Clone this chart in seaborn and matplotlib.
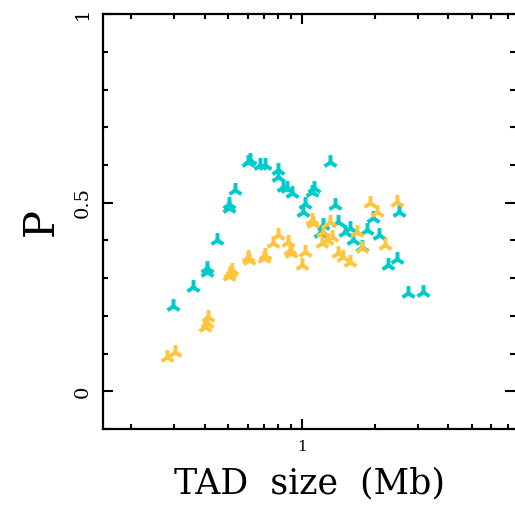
import numpy as np
import pandas as pd
import matplotlib
matplotlib.use("Agg")
import matplotlib.pyplot as plt
import seaborn as sns
from matplotlib.ticker import LogLocator, FixedLocator, MultipleLocator, NullFormatter

# teal series
teal_size = [0.296, 0.358, 0.408, 0.410, 0.449, 0.503, 0.505, 0.532, 0.602, 0.614,
             0.674, 0.707, 0.799, 0.799, 0.838, 0.870, 0.912, 1.032, 1.012, 1.102,
             1.123, 1.307, 1.370, 1.223, 1.189, 1.410, 1.506, 1.578, 1.625, 1.769,
             1.854, 1.963, 2.076, 2.51, 2.26, 2.46, 2.73, 3.15]
teal_p = [0.226, 0.277, 0.316, 0.327, 0.402, 0.487, 0.497, 0.535, 0.609, 0.614,
          0.601, 0.601, 0.588, 0.569, 0.543, 0.540, 0.527, 0.497, 0.476, 0.529,
          0.540, 0.609, 0.495, 0.441, 0.420, 0.449, 0.423, 0.434, 0.402, 0.383,
          0.428, 0.460, 0.415, 0.476, 0.335, 0.351, 0.261, 0.263]

# gold series
gold_size = [0.280, 0.302, 0.401, 0.408, 0.412, 0.508, 0.517, 0.505, 0.602, 0.605,
             0.707, 0.703, 0.762, 0.799, 0.879, 0.895, 0.905, 1.032, 1.003, 1.102,
             1.110, 1.307, 1.223, 1.331, 1.211, 1.270, 1.687, 1.769, 1.908, 2.04,
             2.20, 2.46, 1.41, 1.48, 1.578]
gold_p = [0.090, 0.104, 0.170, 0.181, 0.197, 0.314, 0.322, 0.306, 0.356, 0.348,
          0.362, 0.354, 0.394, 0.415, 0.396, 0.375, 0.367, 0.370, 0.335, 0.455,
          0.447, 0.449, 0.423, 0.410, 0.394, 0.402, 0.423, 0.380, 0.500, 0.476,
          0.388, 0.503, 0.367, 0.356, 0.343]

teal = "#00CBCB"
gold = "#FFC53D"

df = pd.DataFrame({
    "size": teal_size + gold_size,
    "P": teal_p + gold_p,
    "group": ["teal"] * len(teal_size) + ["gold"] * len(gold_size),
})

sns.set_style("ticks")
fig = plt.figure(figsize=(5.15, 5.22), dpi=100)
ax = fig.add_axes([0.2, 0.178, 0.8, 0.795])

for grp, col in [("teal", teal), ("gold", gold)]:
    sub = df[df["group"] == grp]
    sns.scatterplot(data=sub, x="size", y="P", marker="2", s=115, color=col,
                    linewidth=2.8, ax=ax, legend=False)

ax.set_xscale("log")
ax.set_xlim(0.153, 7.5)
ax.set_ylim(-0.1, 1.0)

ax.xaxis.set_major_locator(FixedLocator([1]))
ax.xaxis.set_minor_locator(LogLocator(base=10, subs=np.arange(2, 10)))
ax.xaxis.set_minor_formatter(NullFormatter())
ax.yaxis.set_major_locator(FixedLocator([0, 0.5, 1]))
ax.yaxis.set_minor_locator(MultipleLocator(0.1))

ax.tick_params(which="both", direction="in", top=True, right=True, width=1.5,
               color="black")
ax.tick_params(which="major", length=7, pad=8)
ax.tick_params(which="minor", length=3.5)

# tick labels set directly
ax.set_xticks([1])
ax.set_xticklabels(["1"], fontsize=11, family="DejaVu Serif", color="black")
ax.set_yticks([0, 0.5, 1])
ax.set_yticklabels(["0", "0.5", "1"], rotation=90, va="center", fontsize=14,
                   family="DejaVu Serif", color="black")

for side in ["left", "bottom", "top"]:
    ax.spines[side].set_linewidth(1.6)
    ax.spines[side].set_color("black")
ax.spines["right"].set_visible(False)

ax.set_xlabel("TAD  size  (Mb)", fontsize=25, family="DejaVu Serif", labelpad=9,
              color="black")
ax.set_ylabel("P", fontsize=30, family="DejaVu Serif", labelpad=9, color="black")

fig.savefig("out.png", dpi=100)
